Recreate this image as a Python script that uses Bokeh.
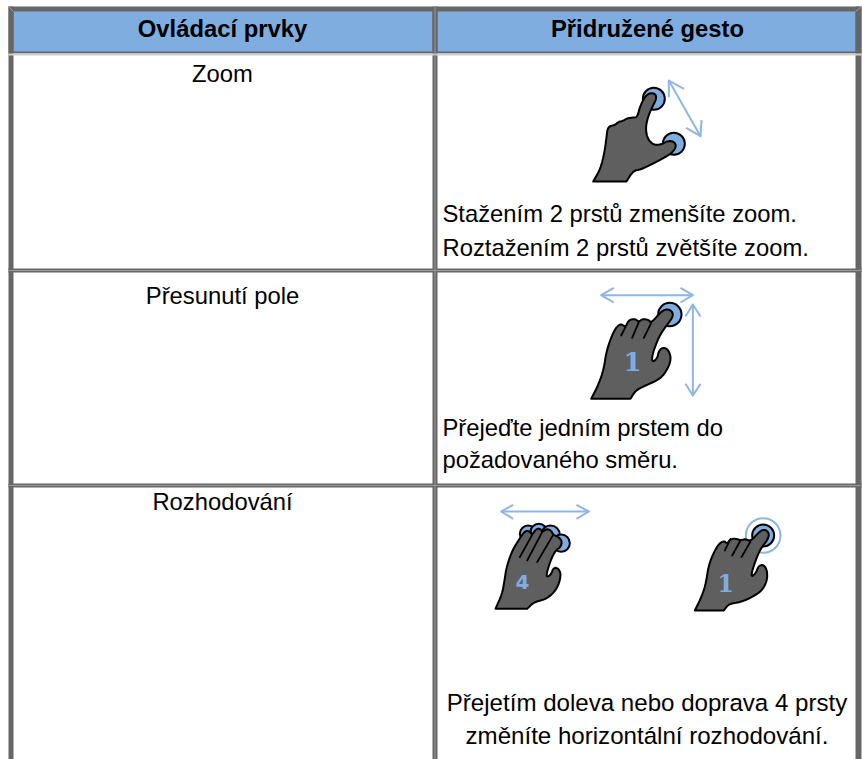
from bokeh.plotting import figure
from bokeh.models import Range1d
from bokeh.core.properties import value
from bokeh.embed import file_html
from bokeh.resources import INLINE

headers = ["Ovládací prvky", "Přidružené gesto"]
controls = ["Zoom", "Přesunutí pole", "Rozhodování"]
left_notes = ["Stažením 2 prstů zmenšíte zoom.", "Roztažením 2 prstů zvětšíte zoom.",
              "Přejeďte jedním prstem do", "požadovaného směru."]
center_notes = ["Přejetím doleva nebo doprava 4 prsty", "změníte horizontální rozhodování."]

GRAY = "#666666"
LIGHT = "#9a9a9a"
PALE = "#d0d0d0"
BLUE = "#7fade0"
ARROW = "#8fb6e3"
HAND = "#5f5f5f"


def smooth(points, rounds=2):
    pts = list(points)
    for _ in range(rounds):
        out = []
        for i, (x0, y0) in enumerate(pts):
            x1, y1 = pts[(i + 1) % len(pts)]
            out.append((0.75 * x0 + 0.25 * x1, 0.75 * y0 + 0.25 * y1))
            out.append((0.25 * x0 + 0.75 * x1, 0.25 * y0 + 0.75 * y1))
        pts = out
    return pts


def scale(points, ox, oy):
    return [ox + x / 3 for x, y in points], [oy + y / 3 for x, y in points]


hand_a = [(8,348),(8,348),(30,310),(42,260),(48,215),(52,183),(75,178),(82,170),(100,165),(110,158),(130,156),(140,155),
          (148,125),(162,95),(178,82),(195,85),(198,100),(185,125),(172,155),(165,190),(172,222),(190,238),(210,238),
          (232,226),(250,228),(258,242),(245,262),(215,280),(180,298),(150,312),(128,316),(108,348),(108,348)]
hand_b = [(32,355),(32,355),(55,310),(70,265),(78,210),(100,150),(118,130),(130,135),(135,140),(145,118),(165,115),(175,125),
          (185,115),(205,118),(212,128),(240,95),(258,85),(275,92),(278,108),(262,130),(240,160),(225,195),(215,225),
          (215,245),(230,235),(235,210),(250,200),(265,210),(272,235),(262,265),(240,295),(195,315),(165,330),(150,355),(150,355)]
hand_c = [(15,340),(15,340),(35,295),(42,255),(48,215),(65,165),(90,125),(105,105),(118,108),(125,118),(137,100),(150,100),
          (155,110),(168,100),(182,105),(188,118),(205,125),(215,138),(210,155),(195,165),(180,195),(165,245),(180,240),
          (190,215),(205,220),(212,240),(200,280),(170,310),(130,320),(110,340),(110,340)]
hand_d = [(28,315),(28,315),(50,270),(62,230),(70,175),(95,120),(115,105),(125,115),(135,100),(155,100),(165,105),(180,100),
          (195,108),(225,75),(240,72),(252,85),(245,105),(225,130),(208,170),(195,215),(210,205),(220,180),(235,178),
          (245,195),(245,225),(230,255),(200,275),(165,290),(130,295),(115,315),(115,315)]

p = figure(width=862, height=759, x_range=Range1d(0, 862), y_range=Range1d(759, 0),
           output_backend="svg", toolbar_location=None, min_border=0, outline_line_color=None,
           background_fill_color="white", border_fill_color="white")
p.axis.visible = False
p.grid.visible = False

# header and rules
p.quad(left=[8], right=[861], top=[6], bottom=[53], fill_color=GRAY, line_color=None)
p.quad(left=[13], right=[432], top=[11], bottom=[51], fill_color=BLUE, line_color=None)
p.quad(left=[437], right=[855], top=[11], bottom=[51], fill_color=BLUE, line_color=None)
for x0, x1 in [(8, 13), (432, 437), (855, 861)]:
    p.quad(left=[x0], right=[x1], top=[6], bottom=[759], fill_color=GRAY, line_color=None)
p.quad(left=[8], right=[861], top=[268], bottom=[272], fill_color=GRAY, line_color=None)
p.quad(left=[8], right=[861], top=[483], bottom=[487], fill_color=GRAY, line_color=None)
for y in [270, 485]:
    p.line([8, 861], [y, y], line_color=LIGHT, line_width=1)
p.line([8, 861], [54, 54], line_color=PALE, line_width=2)
p.line([434.5, 434.5], [6, 759], line_color=LIGHT, line_width=1)
p.line([8, 13], [6, 11], line_color=LIGHT, line_width=1)
p.line([855, 861], [11, 6], line_color=LIGHT, line_width=1)


# texts
def label(x, y, t, align="center", style="normal", size="23.8px"):
    p.text([x], [y], text=[t], text_font=value("Liberation Sans"), text_font_size=size, text_color="#000000",
           text_align=align, text_baseline="alphabetic", text_font_style=style)


label(222, 28, headers[0], style="bold")
label(647, 28, headers[1], style="bold")
label(222, 72.5, controls[0])
label(222, 294.5, controls[1])
label(222, 501, controls[2])
label(442, 213, left_notes[0], "left")
label(442, 247, left_notes[1], "left")
label(442, 427, left_notes[2], "left")
label(442, 459, left_notes[3], "left")
label(646.5, 702, center_notes[0], size="24.1px")
label(646.5, 734.5, center_notes[1], size="24.1px")


# icons
def icon(outline, ox, oy, circles, strokes, arrows):
    for cx, cy, r, fill, col, w in circles:
        p.circle([ox + cx / 3], [oy + cy / 3], radius=r / 3, fill_color=fill, line_color=col, line_width=w)
    xs, ys = scale(smooth(outline), ox, oy)
    p.patch(xs, ys, fill_color=HAND, line_color="#000000", line_width=2, line_join="round")
    for s in strokes:
        xs, ys = scale(s, ox, oy)
        p.line(xs, ys, line_color="#000000", line_width=1.8, line_cap="round")
    for a in arrows:
        xs, ys = scale(a, ox, oy)
        p.line(xs, ys, line_color=ARROW, line_width=2, line_join="round")


icon(hand_a, 590, 65, [(190, 100, 33, BLUE, "#000000", 2), (250, 235, 33, BLUE, "#000000", 2)], [],
     [[(235, 45), (330, 212)], [(235, 95), (235, 45), (280, 70)], [(287, 187), (330, 212), (333, 163)]])
icon(hand_b, 580, 280, [(268, 102, 35, BLUE, "#000000", 2)],
     [[(135, 140), (122, 165)], [(175, 125), (155, 172)], [(212, 128), (190, 172)]],
     [[(62, 44), (337, 44)], [(100, 22), (62, 44), (100, 66)], [(300, 22), (337, 44), (300, 66)],
      [(337, 72), (337, 345)], [(315, 108), (337, 72), (360, 108)], [(315, 310), (337, 345), (360, 310)]])
icon(hand_c, 490, 495, [(113, 115, 25, BLUE, "#000000", 2), (145, 110, 25, BLUE, "#000000", 2),
                        (180, 118, 28, BLUE, "#000000", 2), (212, 143, 26, BLUE, "#000000", 2)],
     [[(125, 118), (88, 185)], [(155, 110), (110, 195)], [(188, 118), (140, 200)]],
     [[(32, 48), (295, 48)], [(68, 28), (32, 48), (68, 70)], [(258, 28), (295, 48), (258, 70)]])
icon(hand_d, 685, 505, [(233, 90, 52, None, ARROW, 2), (233, 90, 33, BLUE, "#000000", 2)],
     [[(135, 100), (118, 135)], [(165, 105), (140, 150)], [(195, 108), (168, 155)]], [])

p.text([632], [361], text=["1"], text_font=value("DejaVu Serif"), text_font_style="bold", text_font_size="26px",
       text_color=BLUE, text_align="center", text_baseline="middle")
p.text([522], [581], text=["4"], text_font=value("DejaVu Sans"), text_font_style="bold", text_font_size="20px",
       text_color=BLUE, text_align="center", text_baseline="middle")
p.text([725], [582], text=["1"], text_font=value("DejaVu Serif"), text_font_style="bold", text_font_size="24px",
       text_color=BLUE, text_align="center", text_baseline="middle")

open("out.html", "w").write(file_html(p, INLINE))
